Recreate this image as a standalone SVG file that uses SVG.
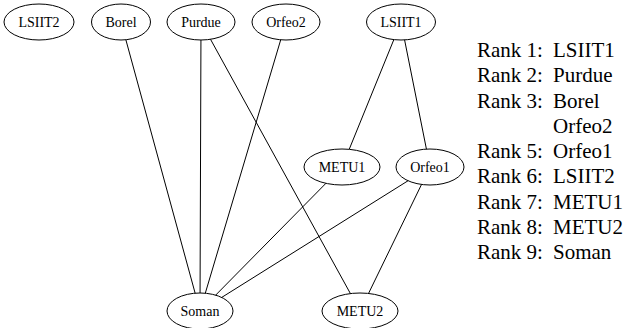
<svg xmlns="http://www.w3.org/2000/svg" width="625" height="328" viewBox="0 0 625 328">
<style>
  .node ellipse { fill: #ffffff; stroke: #000000; stroke-width: 1; }
  .node text { font-family: "Liberation Serif", "Times New Roman", serif; font-size: 14px; text-anchor: middle; fill: #000; }
  #edges line { stroke: #000000; stroke-width: 1; }
  .legend text { font-family: "Liberation Serif", "Times New Roman", serif; font-size: 21px; fill: #000; }
</style>
<rect width="625" height="328" fill="#ffffff"/>
<g id="edges">
  <line x1="121" y1="22" x2="200" y2="311"/>
  <line x1="201" y1="22" x2="200" y2="311"/>
  <line x1="201" y1="22" x2="360" y2="311"/>
  <line x1="286" y1="22" x2="200" y2="311"/>
  <line x1="401" y1="22" x2="342" y2="167"/>
  <line x1="401" y1="22" x2="430" y2="167"/>
  <line x1="342" y1="167" x2="200" y2="311"/>
  <line x1="430" y1="167" x2="200" y2="311"/>
  <line x1="430" y1="167" x2="360" y2="311"/>
</g>
<g id="LSIIT2" class="node"><ellipse cx="39" cy="22" rx="35" ry="18"/><text x="39" y="27">LSIIT2</text></g>
<g id="Borel" class="node"><ellipse cx="121" cy="22" rx="29.5" ry="18"/><text x="121" y="27">Borel</text></g>
<g id="Purdue" class="node"><ellipse cx="201" cy="22" rx="34" ry="18"/><text x="201" y="27">Purdue</text></g>
<g id="Orfeo2" class="node"><ellipse cx="286" cy="22" rx="34" ry="18"/><text x="286" y="27">Orfeo2</text></g>
<g id="LSIIT1" class="node"><ellipse cx="401" cy="22" rx="34.5" ry="18"/><text x="401" y="27">LSIIT1</text></g>
<g id="METU1" class="node"><ellipse cx="342" cy="167" rx="38" ry="18"/><text x="342" y="172">METU1</text></g>
<g id="Orfeo1" class="node"><ellipse cx="430" cy="167" rx="34" ry="18"/><text x="430" y="172">Orfeo1</text></g>
<g id="Soman" class="node"><ellipse cx="200" cy="311" rx="33" ry="18"/><text x="200" y="316">Soman</text></g>
<g id="METU2" class="node"><ellipse cx="360" cy="311" rx="38" ry="18"/><text x="360" y="316">METU2</text></g>
<g class="legend">
  <text x="477" y="57">Rank 1:</text><text x="553" y="57">LSIIT1</text>
  <text x="477" y="82.25">Rank 2:</text><text x="553" y="82.25">Purdue</text>
  <text x="477" y="107.5">Rank 3:</text><text x="553" y="107.5">Borel</text>
  <text x="553" y="132.75">Orfeo2</text>
  <text x="477" y="158">Rank 5:</text><text x="553" y="158">Orfeo1</text>
  <text x="477" y="183.25">Rank 6:</text><text x="553" y="183.25">LSIIT2</text>
  <text x="477" y="208.5">Rank 7:</text><text x="553" y="208.5">METU1</text>
  <text x="477" y="233.75">Rank 8:</text><text x="553" y="233.75">METU2</text>
  <text x="477" y="259">Rank 9:</text><text x="553" y="259">Soman</text>
</g>
</svg>
